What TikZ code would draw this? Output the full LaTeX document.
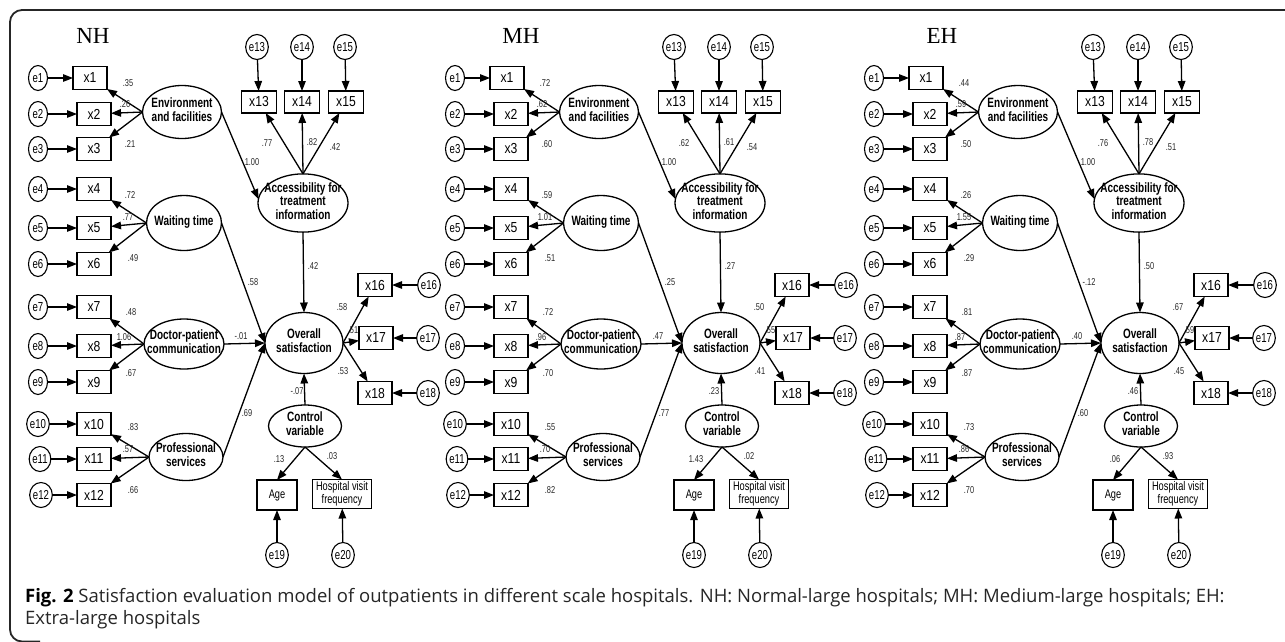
\documentclass[tikz,border=0pt]{standalone}
\usepackage{fontspec}
\setmainfont{Liberation Sans}
\newfontfamily\nar[FakeStretch=0.74]{Liberation Sans}
\newfontfamily\narb[FakeStretch=0.84]{Liberation Sans}
\newfontfamily\titlefont{Liberation Serif}
\newfontfamily\capfont{Open Sans}
\usetikzlibrary{shapes.geometric,arrows.meta}
\newcommand\ctrtext[1]{\makebox[0pt]{\begin{tabular}{@{}c@{}}#1\end{tabular}}}
\newcommand\coefval[1]{\csname semL#1\endcsname}
\tikzset{
 lat/.style={ellipse,draw,line width=1.3pt,inner sep=0pt,outer sep=0pt,font=\nar\bfseries\fontsize{13.5}{13.5}\selectfont},
 ind/.style={rectangle,draw,line width=1.3pt,minimum width=34pt,minimum height=23pt,inner sep=0pt,outer sep=0pt,font=\narb\fontsize{14.5}{14.5}\selectfont},
 smallbox/.style={rectangle,draw,line width=1.3pt,inner sep=0pt,outer sep=0pt,align=center,font=\nar\fontsize{12.5}{13}\selectfont},
 err/.style={ellipse,draw,line width=1.1pt,minimum width=19pt,minimum height=25pt,inner sep=0pt,outer sep=0pt,font=\nar\fontsize{13}{13}\selectfont},
 arr/.style={-{Triangle[length=10pt,width=7.5pt]},line width=1.3pt},
 coef/.style={font=\nar\fontsize{10}{10}\selectfont,inner sep=0pt,text=black!85},
 ptitle/.style={font=\titlefont\fontsize{23}{23}\selectfont},
 captxt/.style={anchor=base west,inner sep=0pt,font=\capfont\fontsize{18.5}{18.5}\selectfont,text=black!85},
}
\newcommand\sempanel[3]{%
 \foreach \v [count=\i] in {#3} {\expandafter\xdef\csname semL\i\endcsname{\v}}%
 \begin{scope}[shift={(#2,0)}]
  \foreach \n/\ex/\bx/\y in {1/38/90/78,2/38/94/114,3/38/94/149,4/38/94/189,5/38/94/228,6/38/94/264,7/38/94/307,8/38/94/346,9/38/94/382,10/38/94/424,11/40/94/459,12/41/94/495}{
   \node[err] (#1e\n) at (\ex,\y) {e\n};
   \node[ind] (#1x\n) at (\bx,\y) {x\n};
   \draw[arr] (#1e\n) -- (#1x\n);
  }
  \foreach \n/\bx/\ex in {13/259/257,14/302/302,15/346/345}{
   \node[err] (#1e\n) at (\ex,47) {e\n};
   \node[ind,minimum width=35pt,minimum height=22pt] (#1x\n) at (\bx,102) {x\n};
   \draw[arr] (#1e\n) -- (#1x\n);
  }
  \foreach \n/\bx/\ex/\y in {16/375/429/285,17/376/428/338,18/375/428/393}{
   \node[err] (#1e\n) at (\ex,\y) {e\n};
   \node[ind] (#1x\n) at (\bx,\y) {x\n};
   \draw[arr] (#1e\n) -- (#1x\n);
  }
  \node[lat,minimum width=79pt,minimum height=53pt] (#1env) at (182,112) {\ctrtext{Environment\\and facilities}};
  \node[lat,minimum width=75pt,minimum height=55pt] (#1wait) at (184,223) {\ctrtext{Waiting time}};
  \node[lat,minimum width=80pt,minimum height=50pt] (#1doc) at (184,344) {\ctrtext{Doctor-patient\\communication}};
  \node[lat,minimum width=74pt,minimum height=47pt] (#1prof) at (186,457) {\ctrtext{Professional\\services}};
  \node[lat,minimum width=90pt,minimum height=57pt] (#1acc) at (303,203) {\ctrtext{Accessibility for\\treatment\\information}};
  \node[lat,minimum width=78pt,minimum height=61pt] (#1ov) at (304,343) {\ctrtext{Overall\\satisfaction}};
  \node[lat,minimum width=73pt,minimum height=42pt] (#1ctrl) at (305,426) {\ctrtext{Control\\variable}};
  \node[smallbox,minimum width=40pt,minimum height=30pt] (#1age) at (277,495) {Age};
  \node[smallbox,minimum width=59pt,minimum height=29pt] (#1hvf) at (342,494) {Hospital visit\\frequency};
  \node[err] (#1e19) at (277,555) {e19};
  \node[err] (#1e20) at (343,555) {e20};
  \draw[arr] (#1e19) -- (#1age);
  \draw[arr] (#1e20) -- (#1hvf);
  \foreach \n in {1,2,3}{\draw[arr] (#1env.west) -- (#1x\n);}
  \foreach \n in {4,5,6}{\draw[arr] (#1wait.west) -- (#1x\n);}
  \foreach \n in {7,8,9}{\draw[arr] (#1doc.west) -- (#1x\n);}
  \foreach \n in {10,11,12}{\draw[arr] (#1prof.west) -- (#1x\n);}
  \foreach \n in {13,14,15}{\draw[arr] (#1acc.north) -- (#1x\n);}
  \foreach \n in {16,17,18}{\draw[arr] (#1ov.east) -- (#1x\n);}
  \draw[arr] (#1env.east) -- (#1acc.175);
  \draw[arr] (#1wait.east) -- (#1ov.west);
  \draw[arr] (#1doc.east) -- (#1ov.west);
  \draw[arr] (#1prof.east) -- (#1ov.west);
  \draw[arr] (#1acc.south) -- (#1ov.north);
  \draw[arr] (#1ctrl.north) -- (#1ov.south);
  \draw[arr] (#1ctrl.south) -- (#1age.north);
  \draw[arr] (#1ctrl.south) -- (#1hvf.north);
  \foreach \px/\py [count=\i] in {128/83,125/104,130/144,252/162,267/143,312/142,335/147,130/195,128/217,133/258,253/282,313/266,131/312,124/337,131/373,241/336,342/307,353/330,343/371,297/391,247/413,133/427,128/449,133/490,279/459,332/456}{
   \node[coef] (#1c\i) at (\px,\py) {\coefval{\i}};
  }
 \end{scope}}
\begin{document}
\begin{tikzpicture}[x=1pt,y=-1pt]
\useasboundingbox (0,0) rectangle (1285,641);
\draw[line width=1.8pt,rounded corners=12pt,black!85] (1290,10) -- (10,10) -- (10,641.5) -- (40,641.5);
\node[ptitle] (tNH) at (93,36) {NH};
\node[ptitle] (tMH) at (521,36) {MH};
\node[ptitle] (tEH) at (942,36) {EH};
\sempanel{NH}{0}{.35,.26,.21,1.00,.77,.82,.42,.72,.77,.49,.58,.42,.48,1.06,.67,-.01,.58,.51,.53,-.07,.69,.83,.57,.66,.13,.03}
\sempanel{MH}{417}{.72,.62,.60,1.00,.62,.61,.54,.59,1.01,.51,.25,.27,.72,.96,.70,.47,.50,.55,.41,.23,.77,.55,.70,.82,1.43,.02}
\sempanel{EH}{836}{.44,.59,.50,1.00,.76,.78,.51,.26,1.55,.29,-.12,.50,.81,.87,.87,.40,.67,.59,.45,.46,.60,.73,.86,.70,.06,.93}
\node[captxt] (cap1) at (25,602) {\textbf{\color{black}Fig. 2} Satisfaction evaluation model of outpatients in different scale hospitals. NH: Normal-large hospitals; MH: Medium-large hospitals; EH:};
\node[captxt] (cap2) at (25,624) {Extra-large hospitals};
\end{tikzpicture}
\end{document}
